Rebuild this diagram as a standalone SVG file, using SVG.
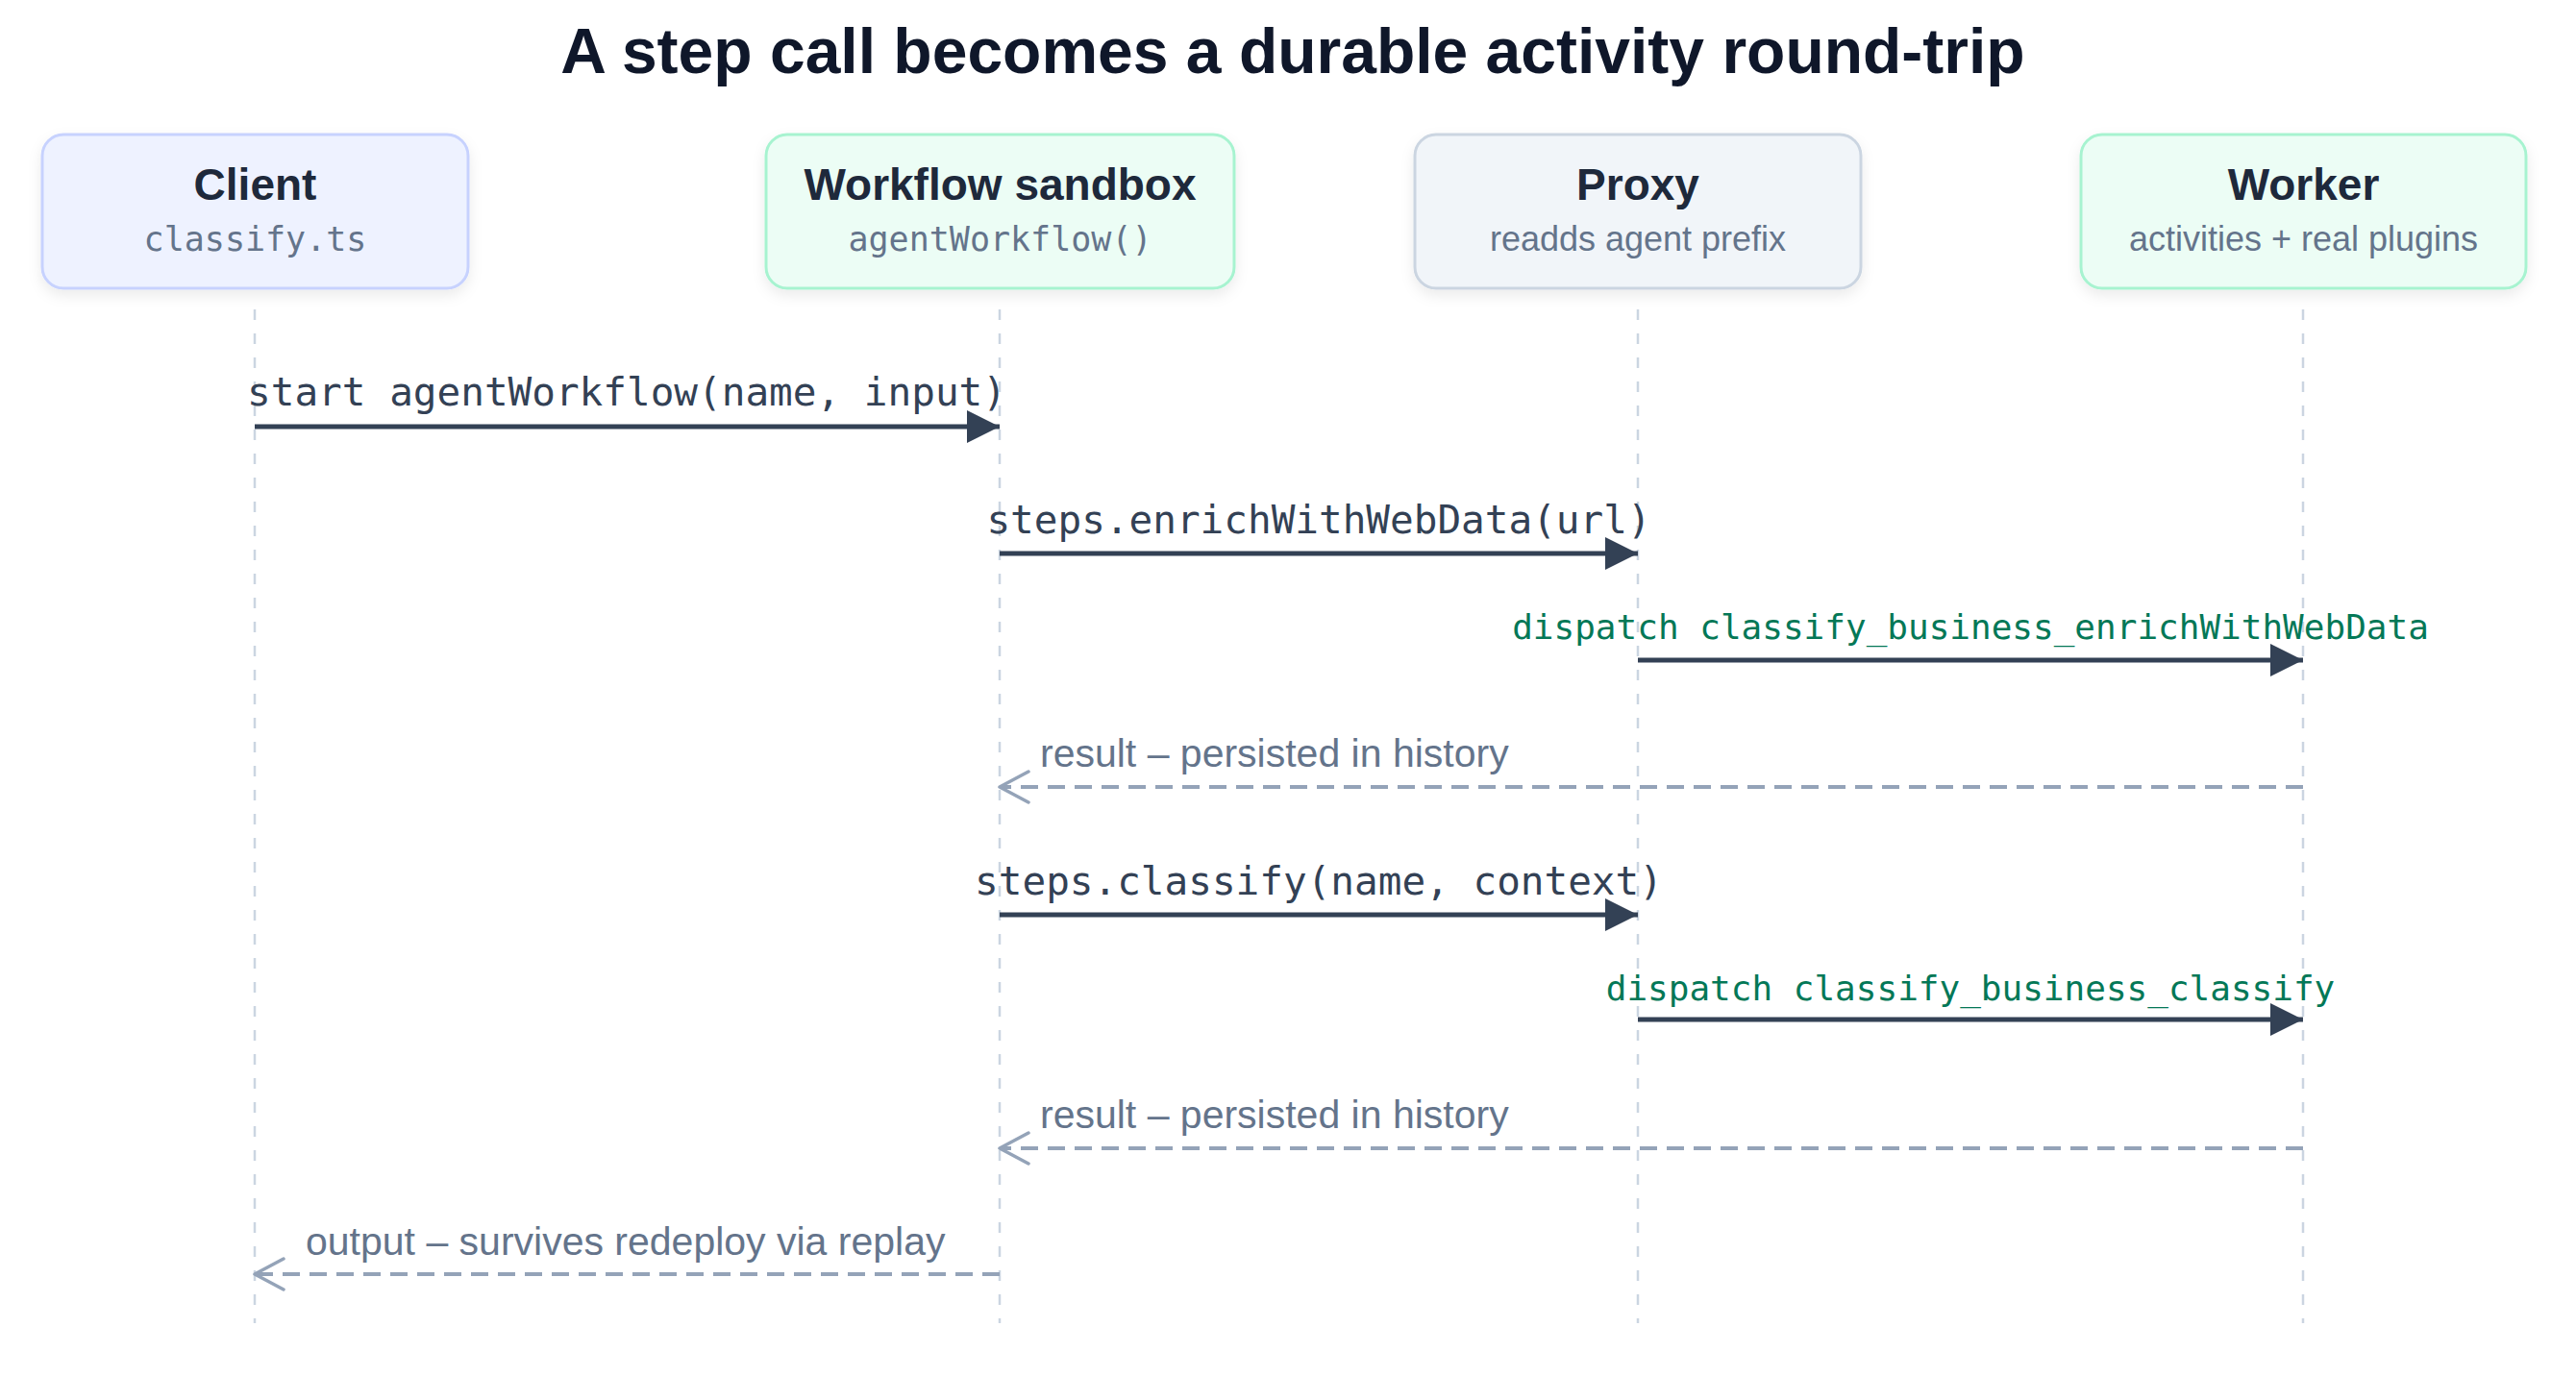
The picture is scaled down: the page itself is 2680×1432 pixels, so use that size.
<svg xmlns="http://www.w3.org/2000/svg" width="2680" height="1432" viewBox="0 0 2680 1432">
<style>
.title{font-family:"Liberation Sans",Arial,Helvetica,sans-serif;font-weight:700;font-size:66px;fill:#0f172a;text-anchor:middle}
.ntitle{font-family:"Liberation Sans",Arial,Helvetica,sans-serif;font-weight:700;font-size:46px;fill:#1e293b;text-anchor:middle}
.nsub{font-family:"Liberation Sans",Arial,Helvetica,sans-serif;font-size:36px;fill:#64748b;text-anchor:middle}
.nsubm{font-family:"DejaVu Sans Mono","Liberation Mono",monospace;font-size:35px;fill:#64748b;text-anchor:middle}
.life{stroke:#cbd5e1;stroke-width:2.5;stroke-dasharray:11 14;fill:none}
.call{stroke:#334155;stroke-width:5;fill:none}
.ret{stroke:#94a3b8;stroke-width:4;stroke-dasharray:18 10;fill:none}
.lblm{font-family:"DejaVu Sans Mono","Liberation Mono",monospace;font-size:41px;fill:#334155;text-anchor:middle}
.lblg{font-family:"DejaVu Sans Mono","Liberation Mono",monospace;font-size:36px;fill:#047857;text-anchor:middle}
.lbls{font-family:"Liberation Sans",Arial,Helvetica,sans-serif;font-size:41px;fill:#64748b}
</style>
<defs>
<filter id="sh" x="-10%" y="-10%" width="120%" height="140%">
<feDropShadow dx="0" dy="6" stdDeviation="7" flood-color="#0f172a" flood-opacity="0.08"/>
</filter>
<marker id="solid" viewBox="0 0 34 34" refX="34" refY="17" markerWidth="34" markerHeight="34" markerUnits="userSpaceOnUse" orient="auto">
<path d="M0,0 L34,17 L0,34 Z" fill="#334155"/>
</marker>
<marker id="open" viewBox="0 0 36 36" refX="34" refY="18" markerWidth="36" markerHeight="36" markerUnits="userSpaceOnUse" orient="auto">
<path d="M4,2 L34,18 L4,34" fill="none" stroke="#94a3b8" stroke-width="3.5" stroke-linecap="round" stroke-linejoin="round"/>
</marker>
</defs>
<rect width="2680" height="1432" fill="#ffffff"/>
<text class="title" x="1345" y="76">A step call becomes a durable activity round-trip</text>

<g id="lifelines">
<line class="life" x1="265" y1="322" x2="265" y2="1377"/>
<line class="life" x1="1040" y1="322" x2="1040" y2="1377"/>
<line class="life" x1="1704" y1="322" x2="1704" y2="1377"/>
<line class="life" x1="2396" y1="322" x2="2396" y2="1377"/>
</g>

<g id="node-client">
<rect x="44" y="140" width="443" height="160" rx="22" fill="#eef2ff" stroke="#c7d2fe" stroke-width="3" filter="url(#sh)"/>
<text class="ntitle" x="265.5" y="208">Client</text>
<text class="nsubm" x="265.5" y="261">classify.ts</text>
</g>
<g id="node-workflow">
<rect x="797" y="140" width="487" height="160" rx="22" fill="#ecfdf5" stroke="#a7f3d0" stroke-width="3" filter="url(#sh)"/>
<text class="ntitle" x="1040.5" y="208">Workflow sandbox</text>
<text class="nsubm" x="1040.5" y="261">agentWorkflow()</text>
</g>
<g id="node-proxy">
<rect x="1472" y="140" width="464" height="160" rx="22" fill="#f1f5f9" stroke="#cbd5e1" stroke-width="3" filter="url(#sh)"/>
<text class="ntitle" x="1704" y="208">Proxy</text>
<text class="nsub" x="1704" y="261">readds agent prefix</text>
</g>
<g id="node-worker">
<rect x="2165" y="140" width="463" height="160" rx="22" fill="#ecfdf5" stroke="#a7f3d0" stroke-width="3" filter="url(#sh)"/>
<text class="ntitle" x="2396.5" y="208">Worker</text>
<text class="nsub" x="2396.5" y="261">activities + real plugins</text>
</g>

<g id="connectors">
<line class="call" x1="265" y1="444" x2="1040" y2="444" marker-end="url(#solid)"/>
<text class="lblm" x="652" y="422">start agentWorkflow(name, input)</text>

<line class="call" x1="1040" y1="576" x2="1704" y2="576" marker-end="url(#solid)"/>
<text class="lblm" x="1372" y="555">steps.enrichWithWebData(url)</text>

<line class="call" x1="1704" y1="687" x2="2396" y2="687" marker-end="url(#solid)"/>
<text class="lblg" x="2050" y="665">dispatch classify_business_enrichWithWebData</text>

<line class="ret" x1="2396" y1="819" x2="1040" y2="819" marker-end="url(#open)"/>
<text class="lbls" x="1082" y="798">result – persisted in history</text>

<line class="call" x1="1040" y1="952" x2="1704" y2="952" marker-end="url(#solid)"/>
<text class="lblm" x="1372" y="931">steps.classify(name, context)</text>

<line class="call" x1="1704" y1="1061" x2="2396" y2="1061" marker-end="url(#solid)"/>
<text class="lblg" x="2050" y="1041">dispatch classify_business_classify</text>

<line class="ret" x1="2396" y1="1195" x2="1040" y2="1195" marker-end="url(#open)"/>
<text class="lbls" x="1082" y="1174">result – persisted in history</text>

<line class="ret" x1="1040" y1="1326" x2="265" y2="1326" marker-end="url(#open)"/>
<text class="lbls" x="318" y="1306">output – survives redeploy via replay</text>
</g>
</svg>
